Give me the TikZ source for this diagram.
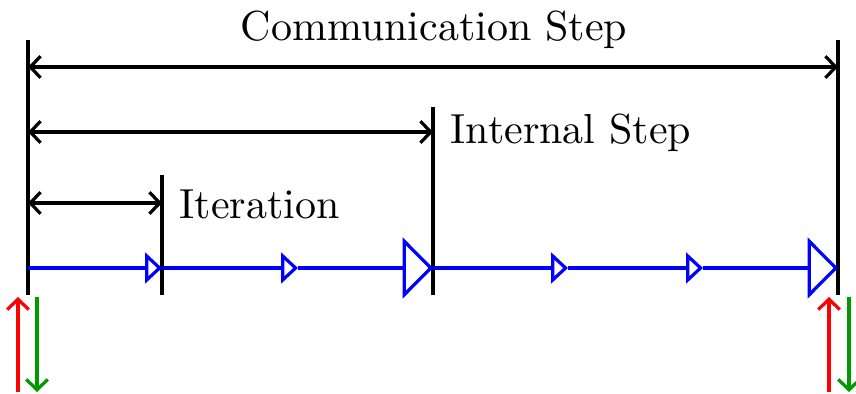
\documentclass[tikz,border=0pt]{standalone}
\usetikzlibrary{arrows.meta}
\begin{document}
\begin{tikzpicture}[x=0.25pt,y=-0.25pt,
  tick/.style={black,line width=0.8pt},
  span/.style={black,line width=0.8pt,{Straight Barb[length=2.6pt,width=5.4pt]}-{Straight Barb[length=2.6pt,width=5.4pt]}},
  iter/.style={blue,line width=0.8pt,-{Triangle[open,length=4.2pt,width=7.6pt]}},
  inner/.style={blue,line width=0.8pt,-{Triangle[open,length=7.6pt,width=15.2pt]}},
  sendup/.style={red,line width=0.8pt,-{Straight Barb[length=2.6pt,width=5.4pt]}},
  senddown/.style={green!60!black,line width=0.8pt,-{Straight Barb[length=2.6pt,width=5.4pt]}},
  lbl/.style={font=\fontsize{10.5}{12}\selectfont,inner sep=0pt}]
  \useasboundingbox (0,0) rectangle (856,394);

  % vertical ticks
  \coordinate (lt) at (28,40);   \coordinate (lb) at (28,295);
  \coordinate (it) at (162,175); \coordinate (ib) at (162,295);
  \coordinate (st) at (433,107); \coordinate (sb) at (433,295);
  \coordinate (rt) at (838,40);  \coordinate (rb) at (838,295);
  \draw[tick] (lt) -- (lb);
  \draw[tick] (it) -- (ib);
  \draw[tick] (st) -- (sb);
  \draw[tick] (rt) -- (rb);

  % dimension arrows
  \coordinate (c0) at (28,67);  \coordinate (c1) at (838,67);
  \coordinate (s0) at (28,132); \coordinate (s1) at (433,132);
  \coordinate (i0) at (28,203); \coordinate (i1) at (162,203);
  \draw[span] (c0) -- (c1);
  \draw[span] (s0) -- (s1);
  \draw[span] (i0) -- (i1);

  % labels
  \node[lbl] (comm) at (434,30) {Communication Step};
  \node[lbl,anchor=west] (internal) at (450,133) {Internal Step};
  \node[lbl,anchor=west] (iteration) at (179,204) {Iteration};

  % time line
  \coordinate (p0) at (28,268);
  \coordinate (p1) at (162,268);
  \coordinate (p2) at (298,268);
  \coordinate (p3) at (433,268);
  \coordinate (p4) at (568,268);
  \coordinate (p5) at (703,268);
  \coordinate (p6) at (838,268);
  \draw[iter] (p0) -- (p1);
  \draw[iter] (p1) -- (p2);
  \draw[inner] (p2) -- (p3);
  \draw[iter] (p3) -- (p4);
  \draw[iter] (p4) -- (p5);
  \draw[inner] (p5) -- (p6);

  % exchange arrows
  \coordinate (lu0) at (18,392);  \coordinate (lu1) at (18,297);
  \coordinate (ld0) at (37,297);  \coordinate (ld1) at (37,392);
  \coordinate (ru0) at (829,392); \coordinate (ru1) at (829,297);
  \coordinate (rd0) at (849,297); \coordinate (rd1) at (849,392);
  \draw[sendup] (lu0) -- (lu1);
  \draw[senddown] (ld0) -- (ld1);
  \draw[sendup] (ru0) -- (ru1);
  \draw[senddown] (rd0) -- (rd1);
\end{tikzpicture}
\end{document}
